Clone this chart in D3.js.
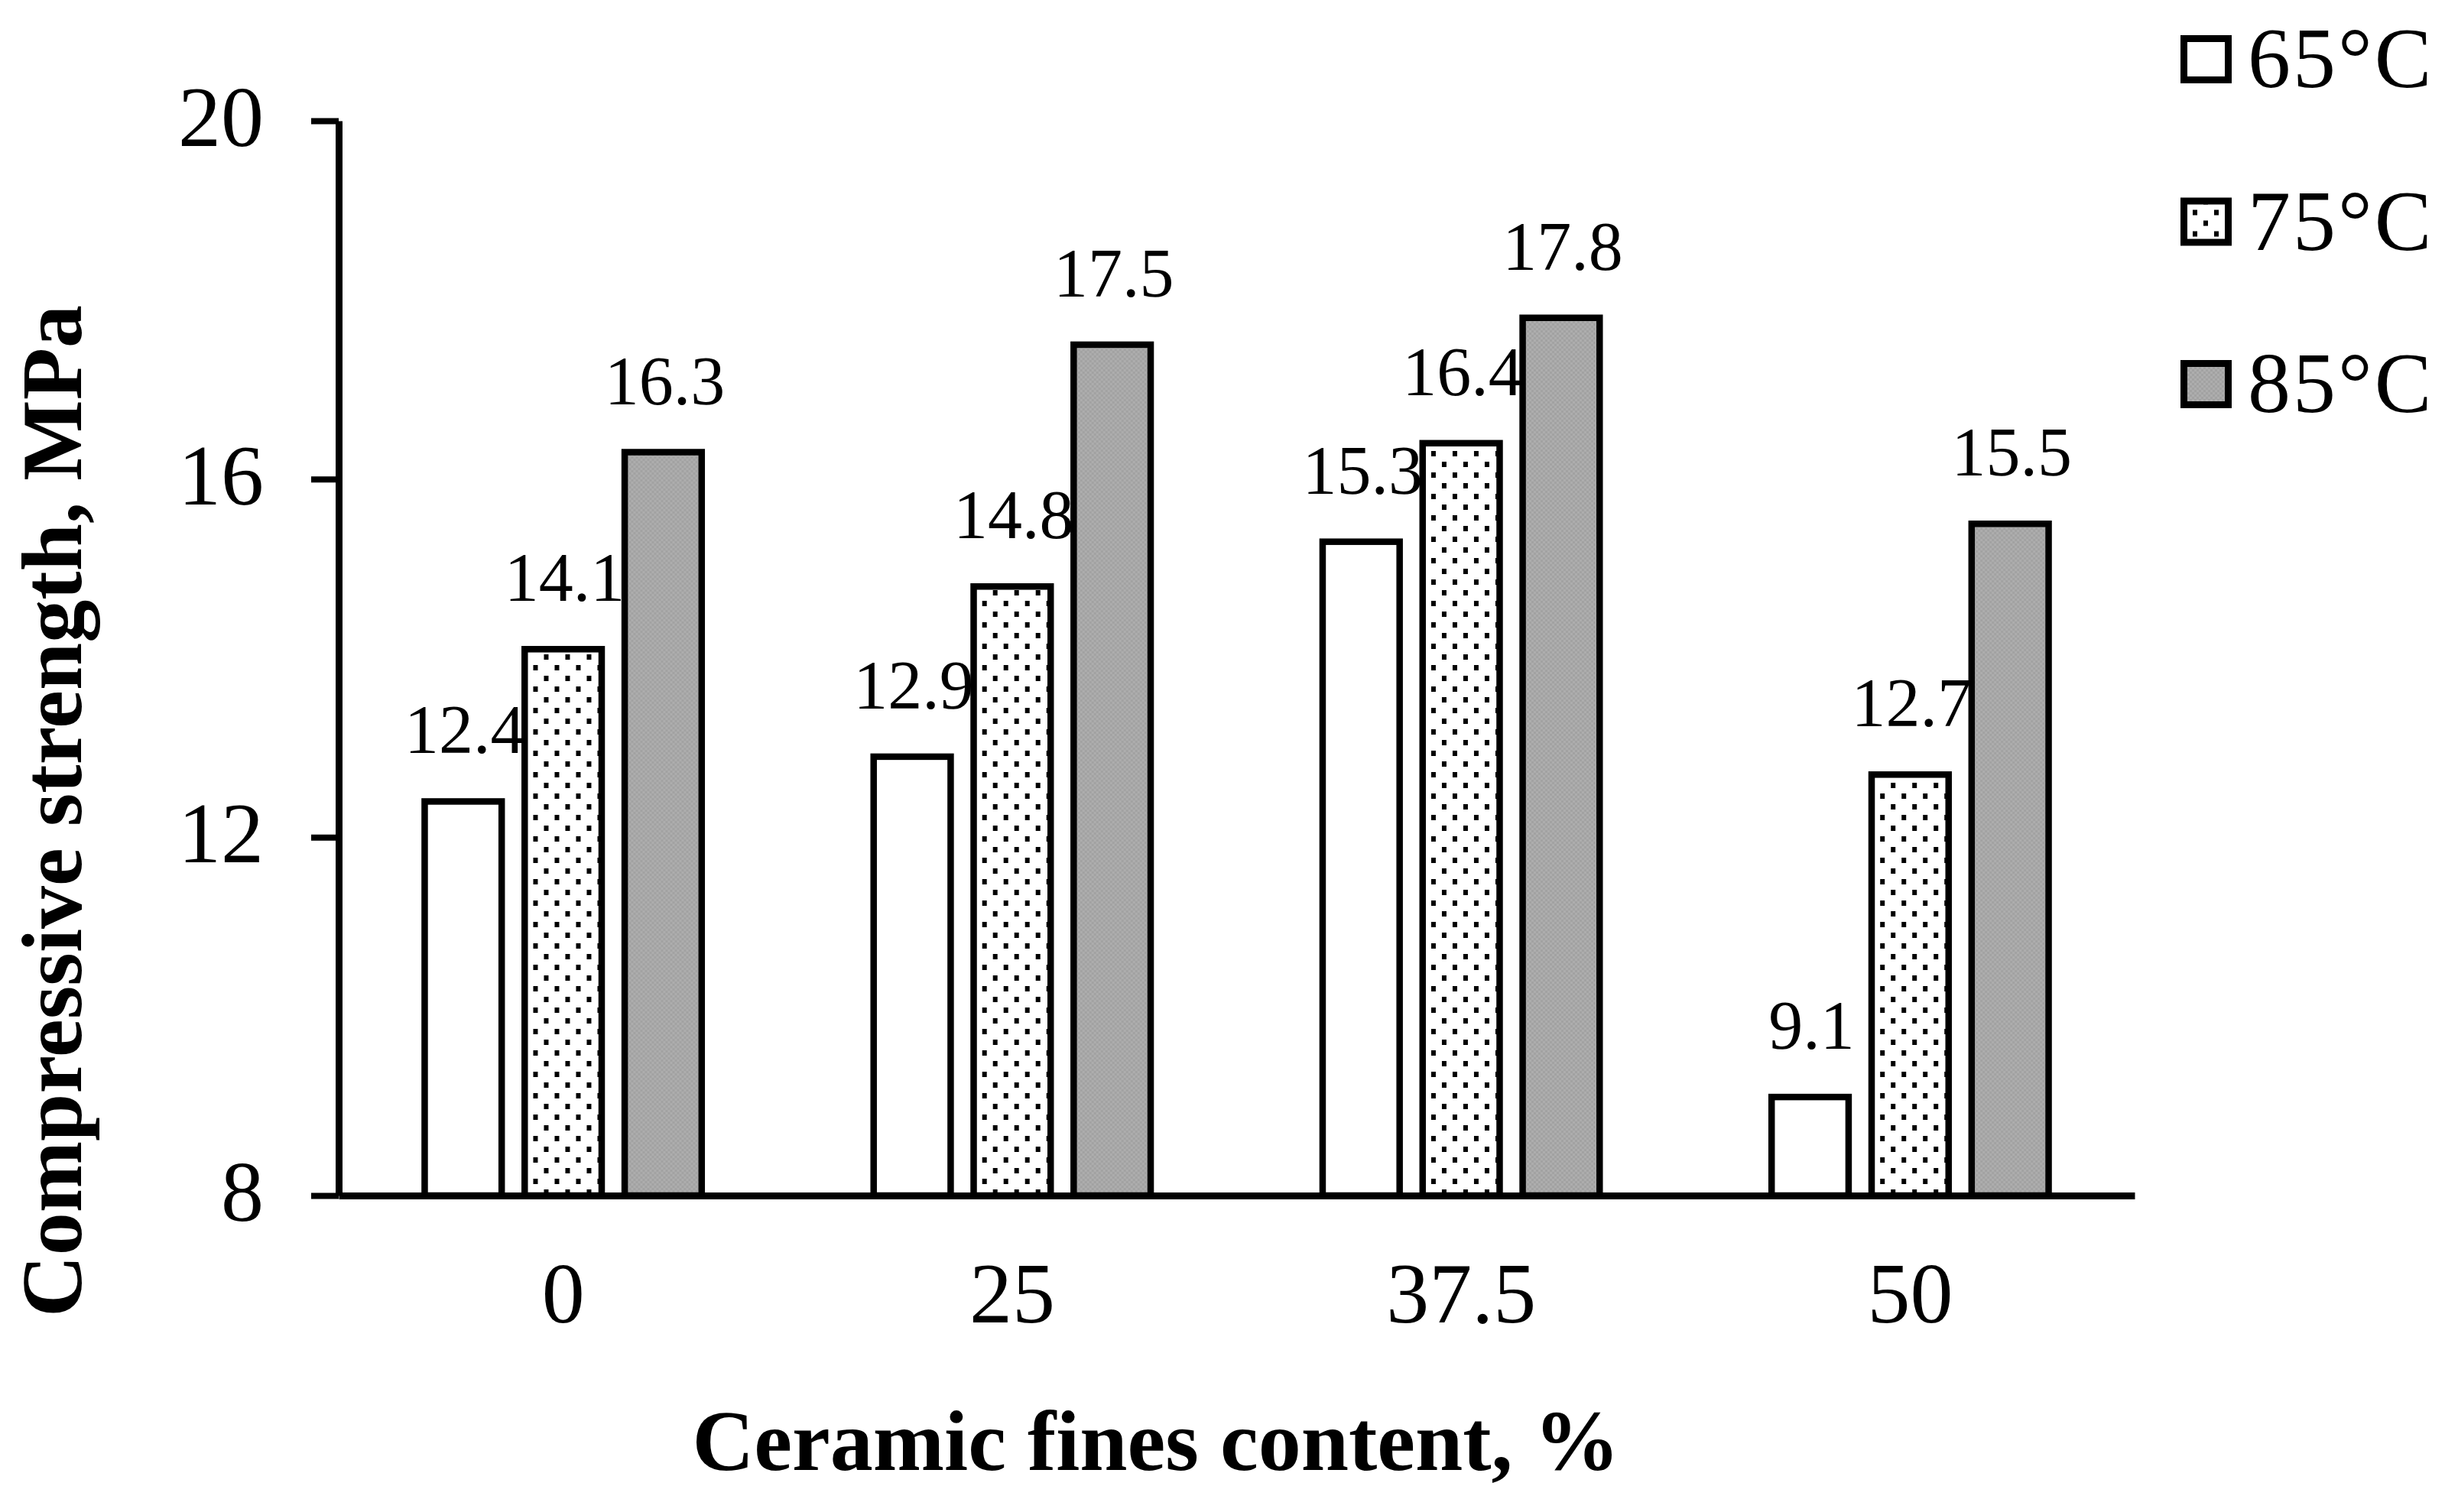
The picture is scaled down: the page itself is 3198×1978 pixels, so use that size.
<!DOCTYPE html>
<html>
<head>
<meta charset="utf-8">
<script src="https://cdn.jsdelivr.net/npm/d3@7"></script>
<style>
  body { margin: 0; background: #fff; }
  text { font-family: "Liberation Serif", "Times New Roman", serif; fill: #000; }
</style>
</head>
<body>
<div id="chart"></div>
<script>
// Data
const categories = ["0", "25", "37.5", "50"];
const seriesNames = ["65°C", "75°C", "85°C"];
const strength65 = [12.4, 12.9, 15.3, 9.1];
const strength75 = [14.1, 14.8, 16.4, 12.7];
const strength85 = [16.3, 17.5, 17.8, 15.5];
const yTicks = [8, 12, 16, 20];

const seriesValues = [strength65, strength75, strength85];

// Set dimensions and plot area
const width = 3198, height = 1978;
const plot = { left: 443, right: 2792, top: 158, bottom: 1564 };

const svg = d3.select('#chart')
    .append('svg')
    .attr('width', width)
    .attr('height', height);

// Fill patterns: plain, dotted, grey
const defs = svg.append('defs');

const dots = defs.append('pattern')
    .attr('id', 'dots')
    .attr('patternUnits', 'userSpaceOnUse')
    .attr('width', 28)
    .attr('height', 28);
dots.append('rect').attr('width', 28).attr('height', 28).attr('fill', '#fff');
dots.append('rect').attr('x', 2).attr('y', 2).attr('width', 6).attr('height', 7).attr('fill', '#000');
dots.append('rect').attr('x', 16).attr('y', 16).attr('width', 6).attr('height', 7).attr('fill', '#000');

const grey = defs.append('pattern')
    .attr('id', 'grey')
    .attr('patternUnits', 'userSpaceOnUse')
    .attr('width', 6)
    .attr('height', 6);
grey.append('rect').attr('width', 6).attr('height', 6).attr('fill', '#a2a2a2');
grey.append('rect').attr('width', 3).attr('height', 3).attr('fill', '#adadad');
grey.append('rect').attr('x', 3).attr('y', 3).attr('width', 3).attr('height', 3).attr('fill', '#adadad');

const fills = ['#fff', 'url(#dots)', 'url(#grey)'];

// Scales
const x0 = d3.scaleBand()
    .domain(categories)
    .range([plot.left, plot.right])
    .paddingInner(0.383)
    .paddingOuter(0.1915);

const x1 = d3.scaleBand()
    .domain(seriesNames)
    .range([0, x0.bandwidth()])
    .paddingInner(0.23);

const y = d3.scaleLinear()
    .domain([8, 20])
    .range([plot.bottom, plot.top]);

// Bars
const groups = svg.selectAll('.group')
    .data(categories)
    .enter()
    .append('g')
    .attr('class', 'group')
    .attr('transform', function (d) {
        return 'translate(' + x0(d) + ',0)';
    });

const cells = groups.selectAll('.cell')
    .data(function (d, i) {
        return seriesNames.map(function (s, j) {
            return { series: s, idx: j, value: seriesValues[j][i] };
        });
    })
    .enter();

cells.append('rect')
    .attr('x', function (d) { return x1(d.series); })
    .attr('y', function (d) { return y(d.value); })
    .attr('width', x1.bandwidth())
    .attr('height', function (d) { return y(8) - y(d.value); })
    .attr('fill', function (d) { return fills[d.idx]; })
    .attr('stroke', '#000')
    .attr('stroke-width', 8.5);

// Value labels
const fmt = d3.format('.1f');
cells.append('text')
    .attr('x', function (d) { return x1(d.series) + x1.bandwidth() / 2 + 2; })
    .attr('y', function (d) { return y(d.value) - 63; })
    .attr('text-anchor', 'middle')
    .attr('font-size', 90)
    .text(function (d) { return fmt(d.value); });

// Y axis
const yAxis = svg.append('g')
    .attr('transform', 'translate(' + plot.left + ',0)')
    .call(d3.axisLeft(y).tickValues(yTicks).tickSize(36).tickSizeOuter(0).tickPadding(62));
yAxis.select('.domain').attr('stroke', '#000').attr('stroke-width', 9);
yAxis.selectAll('.tick line').attr('stroke', '#000').attr('stroke-width', 8);
yAxis.selectAll('.tick text')
    .attr('font-size', 112)
    .attr('font-family', '"Liberation Serif", "Times New Roman", serif')
    .attr('dy', '0.29em');

// X axis
const xAxis = svg.append('g')
    .attr('transform', 'translate(0,' + plot.bottom + ')')
    .call(d3.axisBottom(x0).tickSize(0).tickSizeOuter(0));
xAxis.select('.domain').attr('stroke', '#000').attr('stroke-width', 9);
xAxis.selectAll('.tick text')
    .attr('font-size', 112)
    .attr('font-family', '"Liberation Serif", "Times New Roman", serif')
    .attr('y', 166)
    .attr('dy', 0);

// Axis titles
svg.append('text')
    .attr('transform', 'translate(106,1061) rotate(-90)')
    .attr('text-anchor', 'middle')
    .attr('font-size', 112)
    .attr('font-weight', 'bold')
    .text('Compressive strength, MPa');

svg.append('text')
    .attr('x', 1512)
    .attr('y', 1923)
    .attr('text-anchor', 'middle')
    .attr('font-size', 112)
    .attr('font-weight', 'bold')
    .text('Ceramic fines content, %');

// Legend
const legend = svg.selectAll('.legend')
    .data(seriesNames)
    .enter()
    .append('g')
    .attr('class', 'legend')
    .attr('transform', function (d, i) {
        return 'translate(2852,' + (46 + i * 212.5) + ')';
    });

legend.append('rect')
    .attr('x', 4.5)
    .attr('y', 4.5)
    .attr('width', 58)
    .attr('height', 54)
    .attr('fill', function (d, i) { return fills[i]; })
    .attr('stroke', '#000')
    .attr('stroke-width', 9);

legend.append('text')
    .attr('x', 88)
    .attr('y', 68)
    .attr('font-size', 112)
    .attr('letter-spacing', 3)
    .text(function (d) { return d; });
</script>
</body>
</html>
